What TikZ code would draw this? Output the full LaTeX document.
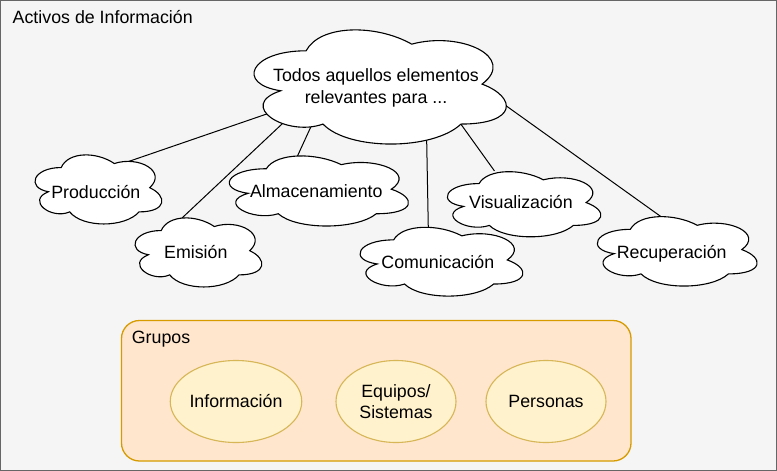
\documentclass[tikz,border=0pt]{standalone}
\usepackage{fontspec}
\setmainfont{Liberation Sans}
\usetikzlibrary{shapes.geometric}
\pgfdeclarelayer{back}
\pgfdeclarelayer{links}
\pgfdeclarelayer{shapes}
\pgfsetlayers{back,links,shapes,main}
\definecolor{outerfill}{HTML}{F5F5F5}
\definecolor{outerdraw}{HTML}{666666}
\definecolor{grpfill}{HTML}{FFE6CC}
\definecolor{grpdraw}{HTML}{D79B00}
\definecolor{itemfill}{HTML}{FFF2CC}
\definecolor{itemdraw}{HTML}{D6B656}
% draw.io cloud outline in the box (x0,y0,w,h), y downwards
\newcommand{\drawcloud}[4]{%
  \begin{scope}[shift={(#1,#2)}, xscale=#3, yscale=#4]
    \path[cloudline] (0.25,0.25)
      .. controls (0.05,0.25) and (0,0.5) .. (0.16,0.55)
      .. controls (0,0.66) and (0.18,0.9) .. (0.31,0.8)
      .. controls (0.4,1) and (0.7,1) .. (0.8,0.8)
      .. controls (1,0.8) and (1,0.6) .. (0.875,0.5)
      .. controls (1,0.3) and (0.8,0.1) .. (0.625,0.2)
      .. controls (0.5,0.05) and (0.3,0.05) .. (0.25,0.25) -- cycle;
  \end{scope}}
\begin{document}
\begin{tikzpicture}[x=1pt,y=-1pt,
  every node/.style={font=\fontsize{17.8}{21.6}\selectfont, inner sep=0pt, outer sep=0pt, text=black},
  cloudtxt/.style={anchor=base},
  cloudline/.style={draw=black, fill=white, line width=1.1pt},
  link/.style={draw=black, line width=1pt, shorten <=-2pt, shorten >=-2pt},
  grpbox/.style={rectangle, draw=grpdraw, fill=grpfill, rounded corners=18pt, line width=1.3pt},
  grpitem/.style={ellipse, draw=itemdraw, fill=itemfill, line width=1.1pt,
    minimum width=120pt, minimum height=82pt, align=center}
]
\useasboundingbox (0,0) rectangle (777,471);
\begin{pgfonlayer}{back}
  \path[fill=outerfill, draw=outerdraw, line width=1.2pt] (0.6,0.6) rectangle (776.4,470.4);
\end{pgfonlayer}

\node[anchor=base west] (title) at (12.7,23.3) {Activos de Información};

% cloud labels
\node[align=center] (main) at (376,88) {Todos aquellos elementos\\relevantes para ...};
\node[cloudtxt] (prod) at (95.8,198.3) {Producción};
\node[cloudtxt] (emis) at (195.8,258.3) {Emisión};
\node[cloudtxt] (alma) at (316.3,197.7) {Almacenamiento};
\node[cloudtxt] (comu) at (437.8,268.3) {Comunicación};
\node[cloudtxt] (visu) at (521,208.3) {Visualización};
\node[cloudtxt] (recu) at (671.7,258.3) {Recuperación};

% cloud outlines
\begin{pgfonlayer}{shapes}
  \drawcloud{235.7}{17.5}{281.6}{133.2}
  \drawcloud{25.8}{147.4}{141.6}{80.6}
  \drawcloud{125.8}{210.4}{141.6}{80.6}
  \drawcloud{216.3}{148.3}{200}{81.8}
  \drawcloud{348.2}{219.8}{181.8}{80.3}
  \drawcloud{436.2}{164.6}{171.4}{76}
  \drawcloud{585.7}{209.1}{178.4}{81}
\end{pgfonlayer}

% connector ends on the cloud outlines
\coordinate (mainA) at (266.7,114);   \coordinate (prodA) at (123.3,163.3);
\coordinate (mainB) at (281.7,124.3); \coordinate (emisB) at (181.7,218.3);
\coordinate (mainC) at (311.7,125);   \coordinate (almaC) at (296.7,157.7);
\coordinate (mainD) at (426.7,141.7); \coordinate (comuD) at (428.3,228);
\coordinate (mainE) at (461,124.3);   \coordinate (visuE) at (493.3,169.3);
\coordinate (mainF) at (505,105);     \coordinate (recuF) at (663.3,218.3);
\begin{pgfonlayer}{links}
  \draw[link] (mainA) -- (prodA);
  \draw[link] (mainB) -- (emisB);
  \draw[link] (mainC) -- (almaC);
  \draw[link] (mainD) -- (comuD);
  \draw[link] (mainE) -- (visuE);
  \draw[link] (mainF) -- (recuF);
\end{pgfonlayer}

% groups
\node[grpbox, minimum width=509.5pt, minimum height=140.5pt] (grupos) at (376.25,390.75) {};
\node[anchor=base west] (grlabel) at (131.9,343.7) {Grupos};
\node[grpitem] (info) at (236,401.5) {Información};
\node[grpitem] (equip) at (396,401.5) {Equipos/\\Sistemas};
\node[grpitem] (pers) at (546,401.5) {Personas};
\end{tikzpicture}
\end{document}
